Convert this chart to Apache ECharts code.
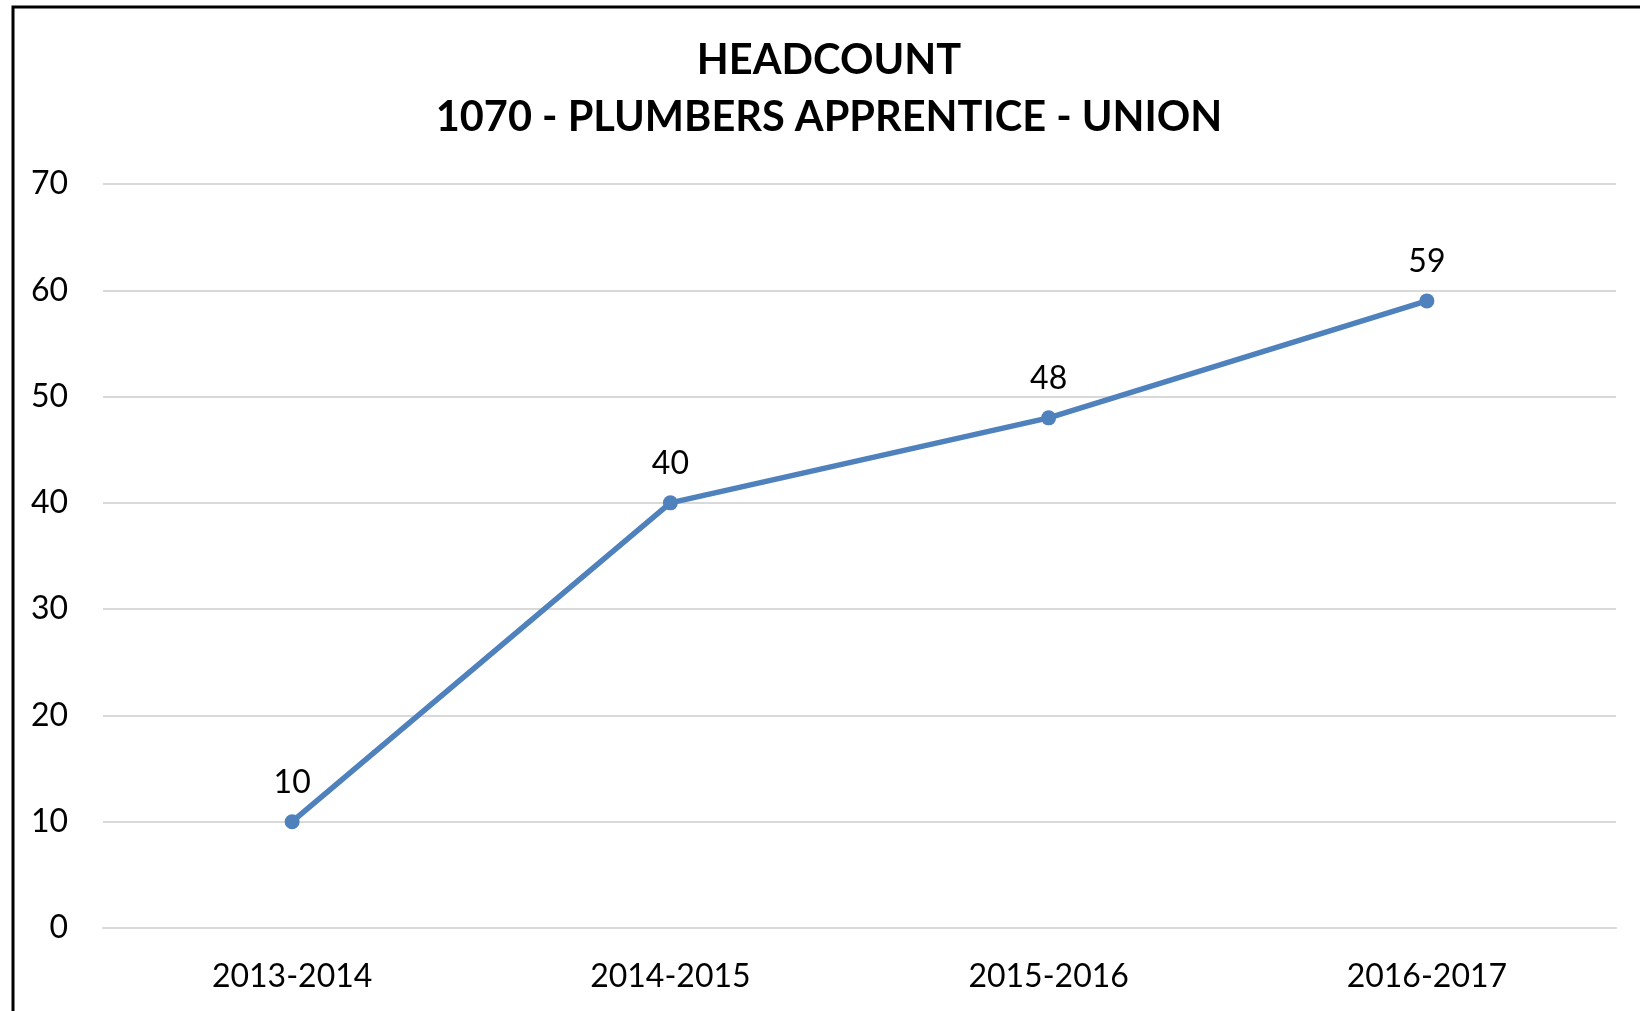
<!DOCTYPE html>
<html>
<head>
<meta charset="utf-8">
<script src="https://cdn.jsdelivr.net/npm/echarts@6/dist/echarts.min.js"></script>
<style>
html,body{margin:0;padding:0;background:#fff;}
#chart{width:1640px;height:1011px;}
</style>
</head>
<body>
<div id="chart"></div>
<script>
const titleText = 'HEADCOUNT\n1070 - PLUMBERS APPRENTICE - UNION';
const categories = ['2013-2014', '2014-2015', '2015-2016', '2016-2017'];
const headcount = [10, 40, 48, 59];
const yTicks = { min: 0, max: 70, interval: 10 };

const chart = echarts.init(document.getElementById('chart'), null, { renderer: 'canvas' });
chart.setOption({
  backgroundColor: '#ffffff',
  textStyle: { fontFamily: 'Lato, "Open Sans", sans-serif' },
  graphic: [{
    type: 'rect',
    shape: { x: 13, y: 7, width: 1700, height: 1100 },
    style: { fill: 'none', stroke: '#000000', lineWidth: 3 },
    silent: true,
    z: 100
  }],
  title: {
    text: titleText,
    left: 824,
    textAlign: 'center',
    top: 27,
    textStyle: { fontSize: 41.5, fontWeight: 'bold', color: '#000', lineHeight: 57, fontFamily: 'Lato, sans-serif' }
  },
  grid: { left: 103, right: 24, top: 184, bottom: 83, containLabel: false },
  xAxis: {
    type: 'category',
    data: categories,
    boundaryGap: true,
    axisLine: { show: true, lineStyle: { color: '#d9d9d9', width: 2 } },
    axisTick: { show: false },
    axisLabel: { fontSize: 32, color: '#000', margin: 33 }
  },
  yAxis: {
    type: 'value',
    min: yTicks.min,
    max: yTicks.max,
    interval: yTicks.interval,
    axisLine: { show: false },
    axisTick: { show: false },
    splitLine: { lineStyle: { color: '#d9d9d9', width: 2 } },
    axisLabel: { fontSize: 32, color: '#000', margin: 35 }
  },
  series: [{
    type: 'line',
    data: headcount,
    symbol: 'circle',
    symbolSize: 15,
    lineStyle: { color: '#4f81bd', width: 5.5 },
    itemStyle: { color: '#4f81bd' },
    label: { show: true, position: 'top', distance: 16, fontSize: 32, color: '#000' },
    animation: false
  }],
  animation: false
});
</script>
</body>
</html>
